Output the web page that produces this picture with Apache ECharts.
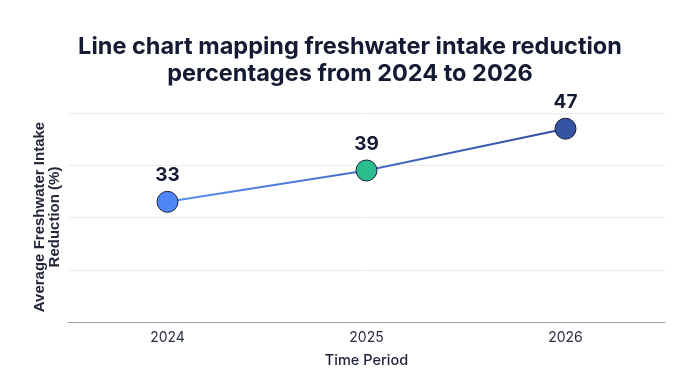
<!DOCTYPE html>
<html>
<head>
<meta charset="utf-8">
<script src="https://cdn.jsdelivr.net/npm/echarts@6/dist/echarts.min.js"></script>
<style>
  html, body { margin: 0; padding: 0; background: #fff; }
  #chart { width: 700px; height: 391px; }
</style>
</head>
<body>
<div id="chart"></div>
<script>
const years = ["2024", "2025", "2026"];
const reduction = [33, 39, 47];
const pointColors = ["#4f86f7", "#2bbd8e", "#3553a3"];
const yAxisTitleLines = ["Average Freshwater Intake", "Reduction (%)"];

const chart = echarts.init(document.getElementById("chart"));

// y axis title: one rotated text per line, each centred on the plot height
const yTitleText = (line, x) => ({
  type: "text",
  x: x,
  y: 217,
  rotation: Math.PI / 2,
  style: {
    text: line,
    align: "center",
    verticalAlign: "middle",
    fontFamily: "Liberation Sans",
    fontSize: 15,
    fontWeight: "bold",
    fill: "#22273a",
  },
});

const option = {
  backgroundColor: "#fff",
  title: {
    text: "Line chart mapping freshwater intake reduction\npercentages from 2024 to 2026",
    left: "center",
    top: 28,
    textStyle: {
      fontFamily: "Inter",
      fontSize: 23.5,
      fontWeight: "bold",
      color: "#151a33",
      lineHeight: 27,
    },
  },
  grid: {
    left: 68,
    right: 35,
    top: 113,
    bottom: 69,
  },
  graphic: [
    yTitleText(yAxisTitleLines[0], 40),
    yTitleText(yAxisTitleLines[1], 55),
  ],
  xAxis: {
    type: "category",
    data: years,
    name: "Time Period",
    nameLocation: "middle",
    nameGap: 31,
    nameTextStyle: {
      fontFamily: "Inter",
      fontSize: 14.5,
      fontWeight: 500,
      color: "#1c2136",
    },
    axisLine: { lineStyle: { color: "#9aa1ad", width: 1.2 } },
    axisTick: { show: false },
    axisLabel: {
      fontFamily: "Inter",
      fontSize: 14,
      color: "#2a2f40",
      margin: 9,
    },
  },
  yAxis: {
    type: "value",
    min: 10,
    max: 50,
    interval: 10,
    axisLabel: { show: false },
    axisLine: { show: false },
    axisTick: { show: false },
    splitLine: { lineStyle: { color: "#ebebeb", width: 1 } },
  },
  series: [
    {
      type: "line",
      data: reduction.map((v, i) => ({
        value: v,
        itemStyle: { color: pointColors[i] },
      })),
      symbol: "circle",
      symbolSize: 21,
      lineStyle: {
        width: 2,
        color: new echarts.graphic.LinearGradient(0, 0, 1, 0, [
          { offset: 0, color: "#5b8ff5" },
          { offset: 1, color: "#2f4c9c" },
        ]),
      },
      itemStyle: {
        borderColor: "#1b2040",
        borderWidth: 1,
      },
      label: {
        show: true,
        position: "top",
        distance: 6,
        fontFamily: "Inter",
        fontSize: 19,
        fontWeight: "bold",
        color: "#151a33",
      },
      emphasis: { disabled: true },
    },
  ],
};

chart.setOption(option);
window.addEventListener("resize", () => {
  chart.resize();
});
</script>
</body>
</html>
